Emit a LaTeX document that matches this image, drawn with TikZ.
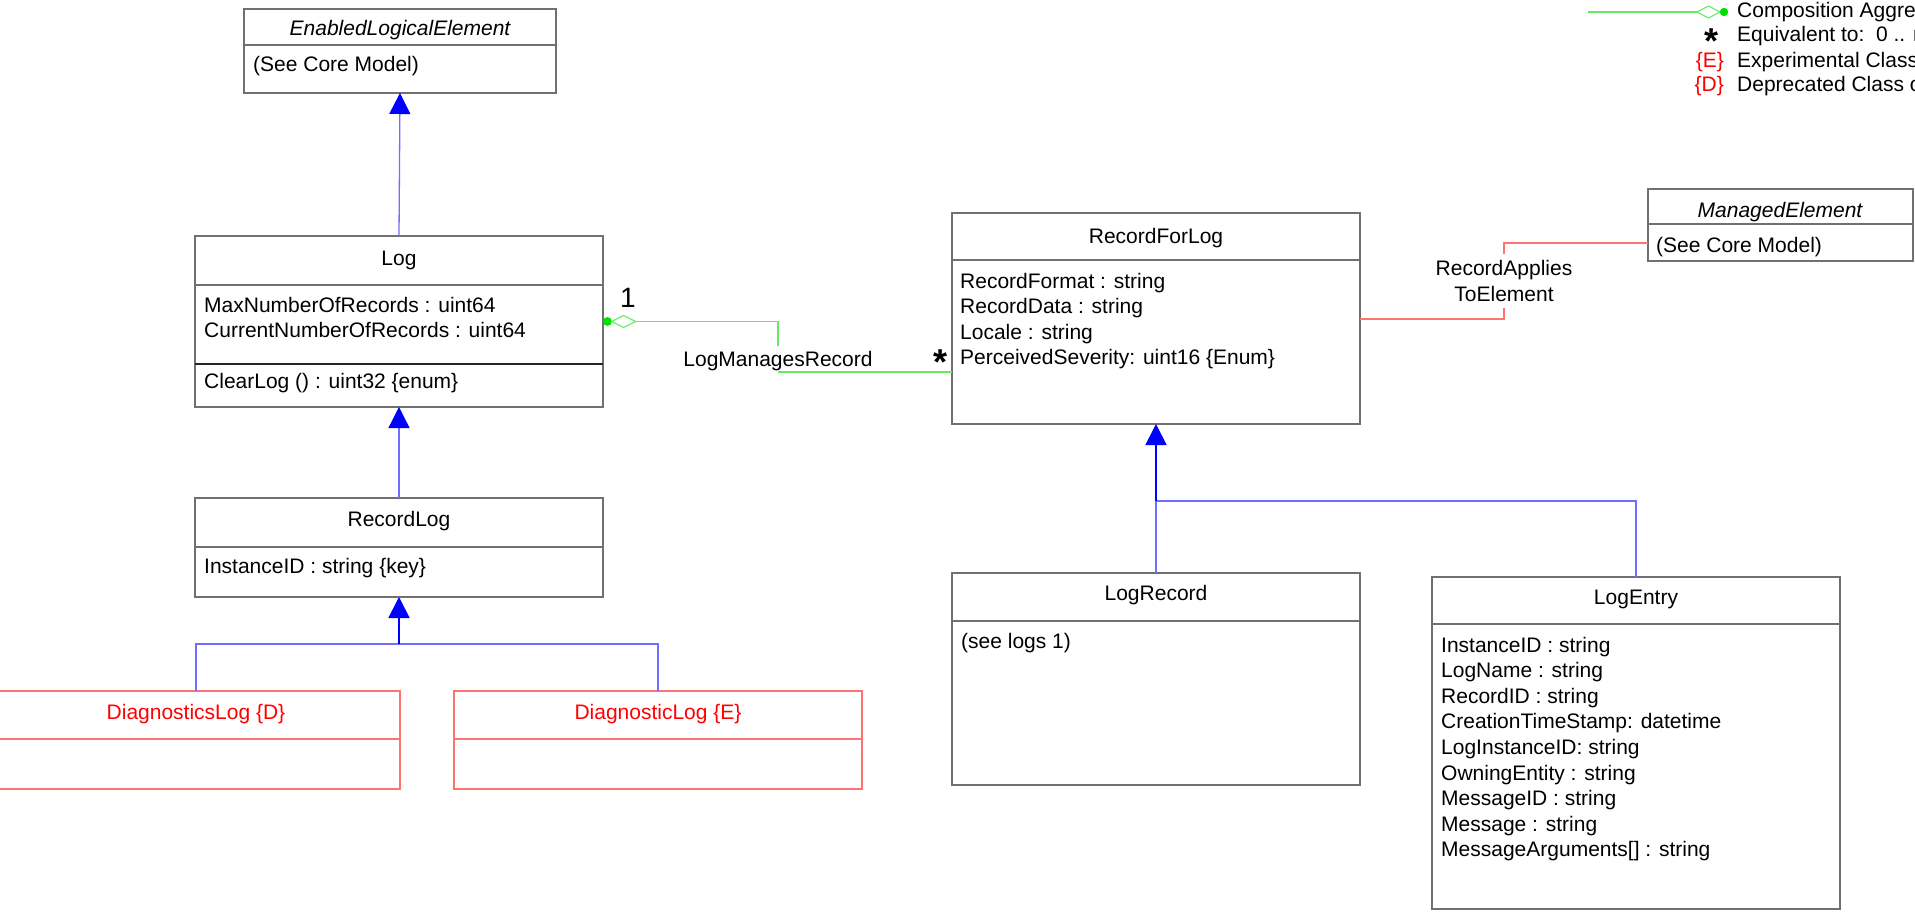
\documentclass[tikz,border=0pt]{standalone}
\usepackage{fontspec}
\setmainfont{Liberation Sans}
\usetikzlibrary{arrows.meta,calc}
\definecolor{boxgray}{RGB}{112,112,112}
\definecolor{lblue}{RGB}{110,110,255}
\definecolor{dblue}{RGB}{0,0,255}
\definecolor{lred}{RGB}{255,115,115}
\definecolor{lgreen}{RGB}{100,235,100}
\definecolor{dgreen}{RGB}{0,225,0}
\definecolor{tred}{RGB}{255,0,0}
\newcommand\ftxt{\fontsize{21}{25.6}\selectfont}
\newcommand\umlbox[6]{\node[#2, minimum width={(#5-(#3))*1pt}, minimum height={(#6-(#4))*1pt}] (#1) at ({(#3+#5)/2},{(#4+#6)/2}) {};}
\newcommand\divider[3][]{\draw[divline,#1] (#2.west |- 0,#3) -- (#2.east |- 0,#3);}
\newcommand\bodylines[4]{\foreach \t [count=\i from 0] in {#4} \node[txt, anchor=base west] (#1-\i) at (#2,{#3+25.6*\i}) {\t};}
\begin{document}
\begin{tikzpicture}[x=1pt,y=-1pt,
 txt/.style={font=\ftxt, inner sep=0pt, text=black},
 cls/.style={draw=boxgray, line width=1.4pt, inner sep=0pt, outer sep=0pt, rectangle},
 dcls/.style={draw=lred, line width=1.4pt, inner sep=0pt, outer sep=0pt, rectangle},
 divline/.style={draw=boxgray, line width=1.4pt},
 genline/.style={draw=lblue, line width=1.3pt},
 gentrunk/.style={draw=dblue, line width=1.8pt, -{Triangle[width=21pt,length=21pt,color=dblue]}},
 gen/.style={draw=lblue, line width=1.3pt, -{Triangle[width=21pt,length=21pt,color=dblue]}},
 assoc/.style={draw=lgreen, line width=1.3pt},
 rassoc/.style={draw=lred, line width=1.3pt},
 star/.style={inner sep=0pt, font=\fontsize{36}{36}\selectfont\bfseries, anchor=base, text height=20pt, text depth=0pt},
]
\useasboundingbox (0,0) rectangle (1915,915);
\clip (0,0) rectangle (1915,915);

% ---------- class boxes ----------
\umlbox{ele}{cls}{244}{9}{556}{93}
\umlbox{log}{cls}{195}{236}{603}{407}
\umlbox{rlog}{cls}{195}{498}{603}{597}
\umlbox{dlogD}{dcls}{-8}{691}{400}{789}
\umlbox{dlogE}{dcls}{454}{691}{862}{789}
\umlbox{rfl}{cls}{952}{213}{1360}{424}
\umlbox{me}{cls}{1648}{189}{1913}{261}
\umlbox{lrec}{cls}{952}{573}{1360}{785}
\umlbox{lent}{cls}{1432}{577}{1840}{909}

\divider{ele}{45}
\divider{log}{285}
\divider[line width=2.4pt, draw=black!85]{log}{364}
\divider{rlog}{547}
\divider[draw=lred]{dlogD}{739}
\divider[draw=lred]{dlogE}{739}
\divider{rfl}{260}
\divider{me}{224}
\divider{lrec}{621}
\divider{lent}{624}

% ---------- texts ----------
\node[txt, font=\ftxt\itshape, anchor=base] (ele-title) at (400,36) {EnabledLogicalElement};
\node[txt, anchor=base west] (ele-body) at (253,72) {(See Core Model)};

\node[txt, anchor=base] (log-title) at (399,265) {Log};
\bodylines{logattr}{204}{312}{{MaxNumberOfRecords : uint64},{CurrentNumberOfRecords : uint64}}
\node[txt, anchor=base west] (log-meth) at (204,388) {ClearLog () : uint32 \{enum\}};

\node[txt, anchor=base] (rlog-title) at (399,526) {RecordLog};
\node[txt, anchor=base west] (rlog-body) at (204,573) {InstanceID : string \{key\}};

\node[txt, text=tred, anchor=base] (dlogD-title) at (196,719) {DiagnosticsLog \{D\}};
\node[txt, text=tred, anchor=base] (dlogE-title) at (658,719) {DiagnosticLog \{E\}};

\node[txt, anchor=base] (rfl-title) at (1156,243) {RecordForLog};
\bodylines{rflattr}{960}{288}{{RecordFormat : string},{RecordData : string},{Locale : string},{PerceivedSeverity: uint16 \{Enum\}}}

\node[txt, font=\ftxt\itshape, anchor=base] (me-title) at (1780,217) {ManagedElement};
\node[txt, anchor=base west] (me-body) at (1656,252) {(See Core Model)};

\node[txt, anchor=base] (lrec-title) at (1156,600) {LogRecord};
\node[txt, anchor=base west] (lrec-body) at (961,648) {(see logs 1)};

\node[txt, anchor=base] (lent-title) at (1636,604) {LogEntry};
\bodylines{lentattr}{1441}{652}{{InstanceID : string},{LogName : string},{RecordID : string},{CreationTimeStamp: datetime},{LogInstanceID: string},{OwningEntity : string},{MessageID : string},{Message : string},{MessageArguments[] : string}}

% ---------- generalizations ----------
\draw[gen] (log.north) -- (ele.south);
\draw[gen] (rlog.north) -- (log.south);
\coordinate (j1) at (rlog.south |- 0,644);
\draw[genline] (dlogD.north) |- (j1);
\draw[genline] (dlogE.north) |- (j1);
\draw[gentrunk] (j1) -- (rlog.south);
\coordinate (j2) at (rfl.south |- 0,501);
\draw[genline] (lent.north) |- (j2);
\draw[genline] (lrec.north) -- (j2);
\draw[gentrunk] (j2) -- (rfl.south);

% ---------- LogManagesRecord (composition) ----------
\node[txt, anchor=base, inner sep=4.5pt] (lmr) at (778,366) {LogManagesRecord};
\coordinate (cdot) at ($(log.east)+(4.5,0)$);
\coordinate (dl) at ($(log.east)+(8.7,0)$);
\coordinate (dr) at ($(log.east)+(32.7,0)$);
\fill[dgreen] (cdot) circle (4.4);
\draw[draw=lgreen, line width=1.1pt] (dl) -- ($(dl)+(12,-6)$) -- (dr) -- ($(dl)+(12,6)$) -- cycle;
\draw[assoc] (dr) -| (lmr.north);
\draw[assoc] (lmr.center |- 0,372) -- (rfl.west |- 0,372);
\node[inner sep=0pt, font=\fontsize{28}{28}\selectfont, anchor=base] (mult1) at (628,307) {1};
\node[star] (multstar) at (940,374) {*};

% ---------- RecordAppliesToElement ----------
\node[txt, align=center, inner sep=6.5pt] (rate) at (1504,281) {RecordApplies\\ToElement};
\draw[rassoc] (rfl.east |- 0,319) -| (rate.south);
\draw[rassoc] (rate.north) |- (me.west |- 0,243);

% ---------- legend ----------
\coordinate (lg1) at (1588,12);
\coordinate (lg2) at (1697,12);
\coordinate (lg3) at (1720,12);
\draw[assoc] (lg1) -- (lg2);
\draw[draw=lgreen, line width=1.1pt] (lg2) -- ($(lg2)+(11.5,-6)$) -- (lg3) -- ($(lg2)+(11.5,6)$) -- cycle;
\fill[dgreen] (1724,12) circle (4.2);
\node[txt, anchor=base west] (leg-comp) at (1737,18) {Composition Aggregation};
\node[star] (leg-star) at (1711,54) {*};
\node[txt, anchor=base west] (leg-eq) at (1737,42) {Equivalent to:\ \ 0 .. n};
\node[txt, text=tred, anchor=base east] (leg-E) at (1724,68) {\{E\}};
\node[txt, anchor=base west] (leg-exp) at (1737,68) {Experimental Class or Property};
\node[txt, text=tred, anchor=base east] (leg-D) at (1724,92) {\{D\}};
\node[txt, anchor=base west] (leg-dep) at (1737,92) {Deprecated Class or Property};
\end{tikzpicture}
\end{document}
